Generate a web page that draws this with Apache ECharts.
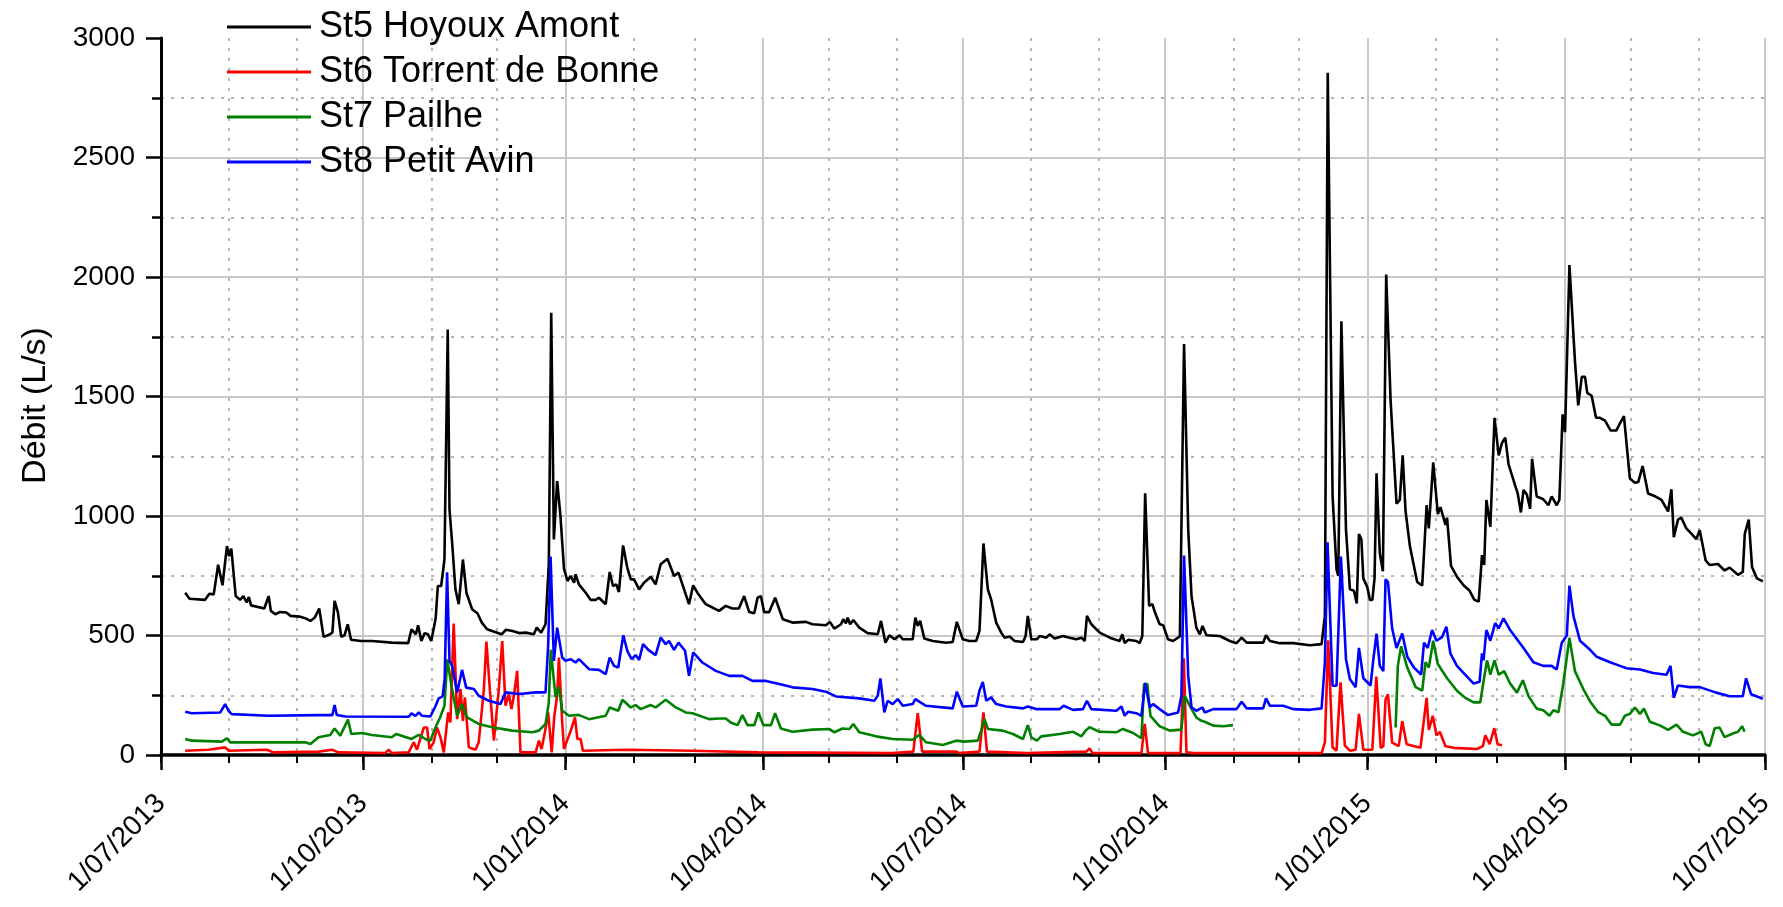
<!DOCTYPE html>
<html>
<head>
<meta charset="utf-8">
<title>Débit St5-St8</title>
<script src="https://cdn.jsdelivr.net/npm/echarts@6/dist/echarts.min.js"></script>
<style>
  html, body { margin: 0; padding: 0; background: #fff; }
  #chart { width: 1783px; height: 907px; }
</style>
</head>
<body>
<div id="chart"></div>
<script>
// x = jours depuis le 1/07/2013, y = débit (L/s)
const st5 = [
  [11,679],[13,654],[20,649],[22,675],[24,672],[26,796],[28,710],[30,874],[31,832],[32,863],[34,665],[36,649],
  [37.5,665],[39,638],[40,661],[41,626],[47,613],[49,665],[50,603],[52,589],[54,598],[57,596],[59,582],[63,579],
  [66,571],[68,561],[70,575],[72,613],[74,495],[76,501],[78,512],[79,645],[80.5,598],[82,495],[83.5,501],[85,547],
  [86.5,482],[91,477],[96,477],[105,470],[112.5,468],[114,526],[116,505],[117,543],[118.5,477],[120,510],[121.5,505],
  [123,477],[125,571],[126,707],[127.5,707],[129,818],[130.5,1780],[131.3,1027],[132.5,888],[134,693],[135.5,631],
  [136.3,624],[137.4,818],[139,679],[141.6,610],[144,593],[146,554],[148.4,526],[150.7,519],[155,505],[157,524],
  [160,519],[163,510],[166,512],[169.7,505],[171,533],[173,512],[175,547],[176.5,800],[177.6,1850],[178.8,902],
  [180.3,1146],[181.8,999],[183.4,780],[185,728],[186.4,749],[188,721],[188.7,756],[190.2,714],[193.3,679],
  [195.5,649],[197.8,649],[199.3,658],[202.4,631],[204.2,766],[205.7,707],[207.2,714],[208.4,682],[210.3,877],
  [212.2,784],[213.8,735],[215.3,735],[217.6,693],[219.8,721],[222.9,746],[225.1,714],[227.4,798],[230.5,821],
  [233.5,749],[235.5,763],[237.3,714],[240.3,631],[242.2,710],[244.1,679],[247.9,631],[251,617],[254,603],[257,624],
  [260,613],[263,613],[265.4,665],[267.7,598],[270,593],[271.5,658],[273,665],[274.5,598],[276.8,598],[279.5,658],
  [283,568],[287.4,554],[293.5,557],[296.5,547],[302.6,543],[304.4,557],[306.4,529],[309.5,547],[310.5,568],
  [311.7,551],[312.5,575],[313.6,547],[315.1,565],[317.8,533],[321.6,510],[326.2,505],[327.7,561],[329.7,470],
  [331.5,501],[333.8,484],[336.1,501],[337.6,484],[342.1,484],[343.3,575],[344.4,540],[345.5,561],[347.4,487],
  [351.2,477],[357.3,470],[360.3,473],[362.2,557],[364.9,484],[367.9,477],[371,477],[372.5,519],[374.3,885],
  [376.3,693],[377.8,651],[380.1,554],[382.4,512],[383.9,491],[386.2,496],[388.5,477],[392.3,473],[393.5,498],
  [394.5,582],[396.1,484],[398.6,484],[399.9,498],[402.9,491],[404.4,505],[406.7,487],[410.5,498],[413.5,491],
  [416.6,484],[418.9,491],[420.4,477],[421.4,582],[423.4,547],[427.2,512],[431.8,491],[436.3,477],[437.5,505],
  [438.6,468],[440.1,482],[443.9,477],[445.4,468],[446.6,498],[447.9,1095],[449.7,624],[451.2,631],[452.3,598],
  [454.5,547],[456.1,543],[458.3,484],[460.6,477],[463.7,496],[465.6,1720],[467.5,944],[469,665],[471.2,533],
  [472.8,505],[474,540],[475.8,501],[481.9,498],[486.4,477],[489.5,468],[491.8,491],[494.1,470],[501.6,470],
  [502.9,501],[504.7,477],[509.2,468],[515.3,468],[522.9,459],[528.2,464],[529.7,582],[531,2855],[533.2,1083],
  [535,777],[535.8,749],[537.2,1815],[539.3,944],[541.1,693],[542.9,687],[544.2,634],[545.2,925],[546.3,903],
  [547.2,739],[549,702],[550.2,649],[551.3,649],[552.3,739],[553.2,1179],[554.7,843],[556.1,769],[557.6,2010],
  [559.6,1485],[562.3,1052],[563.8,1067],[565.1,1254],[566.4,1022],[568.4,873],[571.7,724],[574,709],[576,1045],
  [577,948],[579,1224],[581.1,1008],[582.3,1037],[584.6,963],[585.3,993],[587.1,791],[589.8,746],[592.9,709],
  [595.6,687],[597.7,649],[599.7,642],[601.2,836],[602.2,795],[603.2,1067],[605,955],[606.9,1411],[608.8,1254],
  [610.3,1306],[611.8,1328],[613.3,1216],[616.3,1127],[617.4,1097],[618.9,1015],[620.1,1109],[621.6,1090],
  [623.1,1030],[624,1239],[626.1,1082],[629.1,1070],[631.4,1045],[632.9,1082],[635.2,1045],[636.4,1067],
  [637.9,1425],[639,1351],[641,2050],[643.5,1649],[645,1463],[646.6,1582],[648.1,1582],[649.1,1515],[651.1,1503],
  [653.1,1411],[654.9,1411],[657.2,1399],[659.7,1358],[662.4,1358],[664,1388],[665.8,1418],[668.5,1157],
  [670.8,1139],[672.3,1142],[674.3,1209],[676.8,1094],[679.4,1085],[682.9,1067],[685.9,1019],[687.4,1112],
  [688.5,911],[690.4,985],[691.9,993],[694.2,948],[696.5,926],[698.7,903],[700.3,940],[703,814],[704.8,795],
  [708.6,799],[711.6,772],[713.9,784],[717.7,754],[719.9,766],[720.8,925],[722.6,985],[724.1,787],[726.3,739],
  [729,727]
];

const st6 = [
  [11,18],[21.6,22],[29.2,32],[30.7,18],[48.2,22],[51.2,11],[71.7,14],[77.8,22],[80.8,11],[102,8],[103.6,22],
  [105,8],[112.7,11],[115,53],[116.5,22],[119.6,115],[121.1,115],[122.2,25],[124.1,53],[125.6,115],[127.2,74],
  [128.7,11],[130.7,178],[131.7,136],[133.2,550],[134.8,150],[136.3,276],[137.4,143],[138.3,241],[140.1,32],
  [143.1,22],[144.6,53],[146.9,269],[148.1,475],[149.7,269],[151.5,60],[153.7,269],[155.3,477],[156.8,206],
  [158.3,255],[159.5,192],[160.6,248],[162.1,352],[163.6,11],[170.5,11],[172,60],[173.2,25],[174.7,95],
  [176.2,178],[177.8,11],[179,164],[180.3,248],[181.1,408],[182.6,136],[183.4,25],[186.4,100],[188.4,157],
  [189.5,67],[191,67],[192,18],[211.5,22],[242,18],[272,11],[333,8],[342.4,14],[344.4,175],[346.4,14],[362,14],
  [362.6,22],[363.4,8],[372.5,14],[374.3,178],[375.9,14],[393.8,8],[421.1,14],[422.6,28],[423.9,8],[446.2,8],
  [447.7,130],[449.2,8],[464,8],[465.5,405],[466.7,11],[469.7,8],[528.2,8],[529.7,53],[531.2,480],[533.2,32],
  [535,18],[536.8,304],[538.8,39],[541.1,18],[543.7,22],[545.2,172],[547.2,22],[551.3,22],[553.1,328],[555.1,30],
  [556.3,37],[557.3,232],[558.4,254],[560.3,52],[563.3,37],[564.9,142],[566.9,45],[573.2,30],[576,239],[577,105],
  [578.8,164],[580.5,82],[582,97],[584.6,37],[588.4,30],[598.9,25],[601.6,37],[602.7,82],[604.7,45],[606.8,112],
  [608.3,45],[610.3,41]
];

const st7 = [
  [11,67],[14,60],[27.7,56],[30,70],[31.5,53],[49,53],[65.6,53],[68,46],[71.7,74],[77,84],[79,111],[81.6,81],
  [85.1,148],[86.6,88],[91.5,92],[96,84],[105,74],[107,88],[114,67],[117.3,84],[120.3,67],[122.6,60],[124.6,109],
  [127,157],[129,206],[130.3,400],[132.2,289],[134.8,164],[137,213],[139.3,157],[144.6,130],[150.7,116],
  [159.8,102],[169,95],[172,102],[175,130],[176.5,220],[177.4,440],[179.6,241],[181.1,285],[182.6,185],
  [185.7,164],[190,168],[194.8,150],[202.4,164],[204.2,199],[208.1,185],[210,231],[213.8,199],[216,209],
  [218.3,192],[222.9,209],[225.1,199],[229.7,231],[234.3,199],[238.8,178],[241.9,175],[249.5,150],[254,153],
  [257,153],[259.3,136],[262.4,125],[264.6,167],[266.9,125],[270,125],[271.9,178],[274.1,125],[277.6,125],
  [279.5,175],[282.1,111],[287.4,97],[296.5,106],[304.1,109],[306.4,95],[310.2,111],[313.3,109],[315.1,130],
  [317.8,95],[325.4,78],[333,67],[342.1,64],[345.1,84],[348.2,53],[355.8,42],[361.9,60],[365.6,56],[371.7,60],
  [373.3,102],[374.8,150],[376.3,109],[383.1,102],[387.7,88],[392.3,67],[394.5,125],[396.1,74],[398.6,60],
  [400.6,78],[409,88],[415.1,97],[418.9,78],[420.8,102],[422.6,116],[427.2,97],[434.8,95],[437.8,109],[442.4,92],
  [446.2,70],[447.4,297],[448.9,297],[450.3,164],[454.5,120],[459.1,102],[464.4,106],[465.9,248],[468.2,206],
  [471.2,157],[473.5,143],[475,139],[478.9,123],[483.4,120],[487.9,125],
  [520,null],
  [561.9,115],[562.9,373],[564.4,455],[567.2,366],[571,284],[574,269],[575.5,388],[577,366],[579,478],[581.1,381],
  [585.3,321],[589.8,269],[593.6,239],[597.4,220],[600.4,220],[601.6,291],[603.5,396],[605,336],[606.9,396],
  [608.8,336],[611.3,351],[614,299],[617.1,261],[619.8,313],[622.4,246],[626.1,194],[629.1,187],[631.9,164],
  [633.7,187],[636,179],[638.2,299],[641,490],[643.5,351],[647.3,276],[650.4,224],[654.1,179],[657.2,164],
  [660.2,127],[664,127],[666.2,164],[668.5,172],[670.8,199],[673.1,172],[674.9,194],[677.6,139],[682.1,124],
  [685.9,105],[689.7,127],[692.7,97],[697.2,82],[701,97],[703,45],[704.8,37],[707.1,112],[709.3,115],[711.6,75],
  [715.4,90],[717.7,97],[719.6,120],[720.7,97]
];

const st8 = [
  [11,181],[14,175],[27,178],[29.2,213],[30.7,185],[32.2,171],[49,164],[72,167],[78,167],[79,209],[80,167],[84,161],
  [112.7,160],[114,174],[115.8,164],[117.3,178],[118.8,164],[122.6,161],[125,206],[126.4,237],[128.2,245],
  [129.1,317],[130.2,765],[131.3,394],[132.5,373],[134.8,262],[137,356],[138.9,282],[142.4,276],[144.6,248],
  [149.2,227],[154.5,213],[155.3,217],[156.8,262],[163,255],[170.5,262],[175,262],[176.2,457],[177.3,830],
  [178.8,394],[180.3,533],[182.6,408],[184.1,394],[186.4,401],[188.7,387],[190.2,401],[194.8,359],[199.3,356],
  [202.4,338],[204.2,408],[206.2,373],[208.1,366],[210.4,501],[212.2,436],[214.2,401],[216,418],[217.6,398],
  [219.4,464],[221.8,440],[225.1,418],[227.4,491],[229.7,464],[231.2,477],[233.5,440],[235.5,470],[238.5,436],
  [240.3,331],[242.2,429],[246.4,387],[252.5,352],[258.6,331],[264.6,331],[269.2,310],[275.3,310],[281.4,297],
  [287.4,283],[296.5,276],[302.6,265],[307.2,245],[317.8,237],[324.6,227],[326.2,248],[327.4,320],[329.2,178],
  [330.7,227],[333,213],[335.3,234],[337.6,206],[342.1,213],[343.3,234],[345.1,223],[348.2,206],[360.3,195],
  [362.2,265],[364.9,203],[371,206],[372.5,269],[374,306],[375.6,227],[377.8,241],[380.1,213],[384.7,203],
  [392.3,195],[394.5,203],[398.3,192],[409,192],[410.8,206],[415.1,189],[419.6,192],[421.4,227],[423.4,192],
  [434.8,185],[437.1,203],[438.6,164],[440.1,181],[443.9,175],[446.2,164],[447.9,301],[450,199],[451.5,213],
  [454.5,192],[458.3,167],[462.9,178],[464.4,248],[465.6,835],[467.5,331],[469,199],[471.2,185],[474,199],
  [475,178],[478.9,192],[484.9,192],[489.5,192],[491.8,223],[494.1,195],[501.6,195],[502.9,237],[504.7,206],
  [510.7,206],[515.3,192],[522.9,189],[528.2,195],[529.7,387],[530.9,890],[533.2,290],[535,290],[537,830],
  [539.3,401],[541.1,317],[543.7,284],[545.2,448],[547.2,321],[550.5,291],[551.7,396],[553.2,508],[554.7,373],
  [556.3,351],[557.3,735],[558.4,724],[560.3,530],[562.3,448],[564.9,508],[567.2,411],[570.2,366],[573.5,336],
  [574.8,470],[576.5,448],[578.5,523],[580.5,478],[583,493],[585,537],[586.8,425],[589.8,373],[594.4,328],
  [597.4,299],[600.1,306],[601.2,425],[601.9,396],[603.2,523],[605,478],[607.2,552],[608.8,530],[611,572],
  [614,523],[620.1,448],[624.6,388],[629.1,373],[632.9,373],[635.2,358],[637.5,470],[639.8,500],[641,709],
  [642.8,582],[645.8,478],[650.4,440],[653.4,411],[659.5,388],[664,373],[667,363],[673.1,358],[679.1,343],
  [685.2,336],[687,373],[688.5,239],[690.4,291],[695.7,284],[700.3,284],[707.8,261],[713.9,246],[719.9,246],
  [721.4,321],[723.7,254],[729,235]
];

const seriesNames = ['St5 Hoyoux Amont', 'St6 Torrent de Bonne', 'St7 Pailhe', 'St8 Petit Avin'];
const seriesColors = ['#000000', '#ff0000', '#008000', '#0000ff'];

const DAY = 86400000;
const T0 = Date.UTC(2013, 6, 1);
const T1 = Date.UTC(2015, 6, 1);
const toTime = (arr) => arr.map(([d, v]) => [T0 + d * DAY, v]);

const FONT = 'Liberation Sans, Arial, sans-serif';
const gridGrey = '#c8c8c8';
const dotGrey = '#b4b4b4';

function fmtDate(v) {
  const d = new Date(v);
  return d.getUTCDate() + '/' + String(d.getUTCMonth() + 1).padStart(2, '0') + '/' + d.getUTCFullYear();
}

const chart = echarts.init(document.getElementById('chart'));
chart.setOption({
  animation: false,
  useUTC: true,
  backgroundColor: '#fff',
  textStyle: { fontFamily: FONT },
  grid: { left: 161, right: 18, top: 38, bottom: 152, containLabel: false, outerBoundsMode: 'none' },
  legend: {
    left: 227, top: 9, orient: 'vertical', padding: 0,
    itemWidth: 84, itemHeight: 3, itemGap: 9,
    icon: 'path://M0,0H84V3H0Z',
    data: seriesNames,
    textStyle: { fontSize: 36, color: '#000', fontFamily: FONT, lineHeight: 34, padding: [0, 0, 0, 3] }
  },
  xAxis: [
    {
      // grille mensuelle pointillée
      type: 'time', min: T0, max: T1, position: 'bottom',
      minInterval: 31 * DAY, maxInterval: 31 * DAY,
      axisLine: { show: false },
      axisTick: { show: true, length: 8, lineStyle: { color: '#000', width: 2 } },
      axisLabel: { show: false },
      splitLine: { show: true, lineStyle: { color: dotGrey, width: 2, type: [3, 7] } }
    },
    {
      // grille trimestrielle et étiquettes
      type: 'time', min: T0, max: T1, position: 'bottom',
      minInterval: 91 * DAY, maxInterval: 91 * DAY,
      axisLine: { show: true, onZero: false, lineStyle: { color: '#000', width: 3.5 } },
      axisTick: { show: true, length: 15, lineStyle: { color: '#000', width: 2.5 } },
      axisLabel: {
        show: true, rotate: 45, margin: 44, fontSize: 28, color: '#000', fontFamily: FONT,
        formatter: fmtDate
      },
      splitLine: { show: true, lineStyle: { color: gridGrey, width: 2 } }
    }
  ],
  yAxis: {
    type: 'value', min: 0, max: 3000, interval: 500,
    name: 'Débit (L/s)', nameLocation: 'middle', nameGap: 108, nameRotate: 90,
    nameTextStyle: { fontSize: 34, color: '#000', fontFamily: FONT, padding: [0, 18, 0, 0] },
    axisLine: { show: true, lineStyle: { color: '#000', width: 3 } },
    axisTick: { show: true, length: 15, lineStyle: { color: '#000', width: 2.5 } },
    minorTick: { show: true, splitNumber: 2, length: 9, lineStyle: { color: '#000', width: 2.5 } },
    axisLabel: { fontSize: 28, color: '#000', margin: 26, fontFamily: FONT, formatter: (v) => String(v) },
    splitLine: { show: true, showMaxLine: false, showMinLine: false, lineStyle: { color: gridGrey, width: 2 } },
    minorSplitLine: { show: true, lineStyle: { color: dotGrey, width: 2, type: [3, 7] } }
  },
  series: [st5, st6, st7, st8].map((arr, i) => ({
    name: seriesNames[i],
    type: 'line',
    xAxisIndex: 1,
    data: toTime(arr),
    symbol: 'none',
    showSymbol: false,
    connectNulls: false,
    color: seriesColors[i],
    lineStyle: { color: seriesColors[i], width: 2.6 }
  }))
});
</script>
</body>
</html>
